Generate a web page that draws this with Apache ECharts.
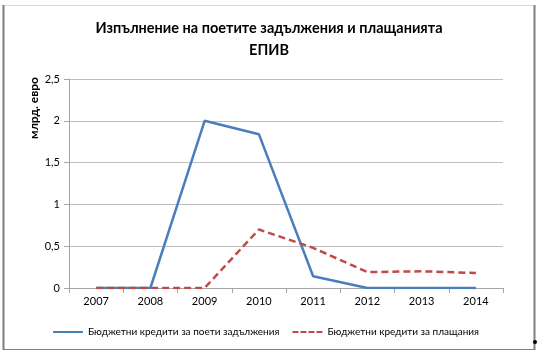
<!DOCTYPE html>
<html><head><meta charset="utf-8">
<script src="https://cdn.jsdelivr.net/npm/echarts@6/dist/echarts.min.js"></script>
<style>html,body{margin:0;padding:0;background:#fff}#c{width:538px;height:352px}</style>
</head><body><div id="c"></div>
<script>
const categories = ['2007','2008','2009','2010','2011','2012','2013','2014'];
const commitments = [0, 0, 2.0, 1.84, 0.14, 0, 0, 0];
const payments = [0, 0, 0, 0.70, 0.48, 0.19, 0.20, 0.18];
const yTicks = [0, 0.5, 1, 1.5, 2, 2.5];
const seriesNames = ['Бюджетни кредити за поети задължения', 'Бюджетни кредити за плащания'];
const yName = 'млрд. евро';
const FONT = 'Lato';
const chart = echarts.init(document.getElementById('c'), null, {renderer:'canvas'});
chart.setOption({
  animation:false,
  backgroundColor:'#fff',
  textStyle:{fontFamily:FONT},
  title:{
    text:'Изпълнение на поетите задължения и плащанията\nЕПИВ',
    left:'center', top:12,
    textStyle:{fontFamily:FONT, fontSize:14.5, fontWeight:'bold', color:'#000', lineHeight:22}
  },
  graphic:[
    {type:'rect', shape:{x:3.5,y:5.5,width:531,height:344}, style:{fill:'none', stroke:'#d9d9d9', lineWidth:1}},
    {type:'line', shape:{x1:3.5,y1:5,x2:3.5,y2:350}, style:{stroke:'#7f7f7f', lineWidth:2}},
    {type:'line', shape:{x1:534.5,y1:5,x2:534.5,y2:350}, style:{stroke:'#7f7f7f', lineWidth:2}},
    {type:'line', shape:{x1:3,y1:349.5,x2:535,y2:349.5}, style:{stroke:'#7f7f7f', lineWidth:1}},
    {type:'circle', shape:{cx:535,cy:342,r:2}, style:{fill:'#000'}},
    {type:'text', x:34, y:108, rotation:Math.PI/2,
     style:{text:yName, fontFamily:FONT, fontSize:12, fontWeight:'bold', fill:'#000', align:'center', verticalAlign:'middle'}}
  ],
  grid:{left:69, right:35, top:79, bottom:64, containLabel:false},
  legend:{
    top:327, left:53, padding:0, itemWidth:30, itemHeight:10, itemGap:13,
    textStyle:{fontFamily:FONT, fontSize:10, color:'#000'},
    data:[
      {name:seriesNames[0], icon:'path://M0,4L30,4L30,6L0,6Z'},
      {name:seriesNames[1], icon:'path://M0,4L6,4L6,6L0,6ZM8,4L14,4L14,6L8,6ZM16,4L22,4L22,6L16,6ZM24,4L30,4L30,6L24,6Z'}
    ]
  },
  xAxis:{
    type:'category', data:categories, boundaryGap:true,
    axisLine:{lineStyle:{color:'#a6a6a6'}},
    axisTick:{show:true, length:5, lineStyle:{color:'#a6a6a6'}},
    axisLabel:{fontFamily:FONT, fontSize:11, color:'#000', margin:8}
  },
  yAxis:{
    type:'value', min:yTicks[0], max:yTicks[yTicks.length-1], interval:0.5,
    axisLine:{show:true, lineStyle:{color:'#a6a6a6'}},
    axisTick:{show:true, length:5, lineStyle:{color:'#a6a6a6'}},
    splitLine:{lineStyle:{color:'#bfbfbf'}},
    axisLabel:{fontFamily:FONT, fontSize:11, color:'#000', margin:9,
      formatter:v=>String(v).replace('.',',')}
  },
  series:[
    {name:seriesNames[0], type:'line', data:commitments, symbol:'none',
     lineStyle:{color:'#4a7ebb', width:2.5}, itemStyle:{color:'#4a7ebb'}},
    {name:seriesNames[1], type:'line', data:payments, symbol:'none',
     lineStyle:{color:'#be4b48', width:2.5, type:[7,4]}, itemStyle:{color:'#be4b48'}}
  ]
});
</script></body></html>
